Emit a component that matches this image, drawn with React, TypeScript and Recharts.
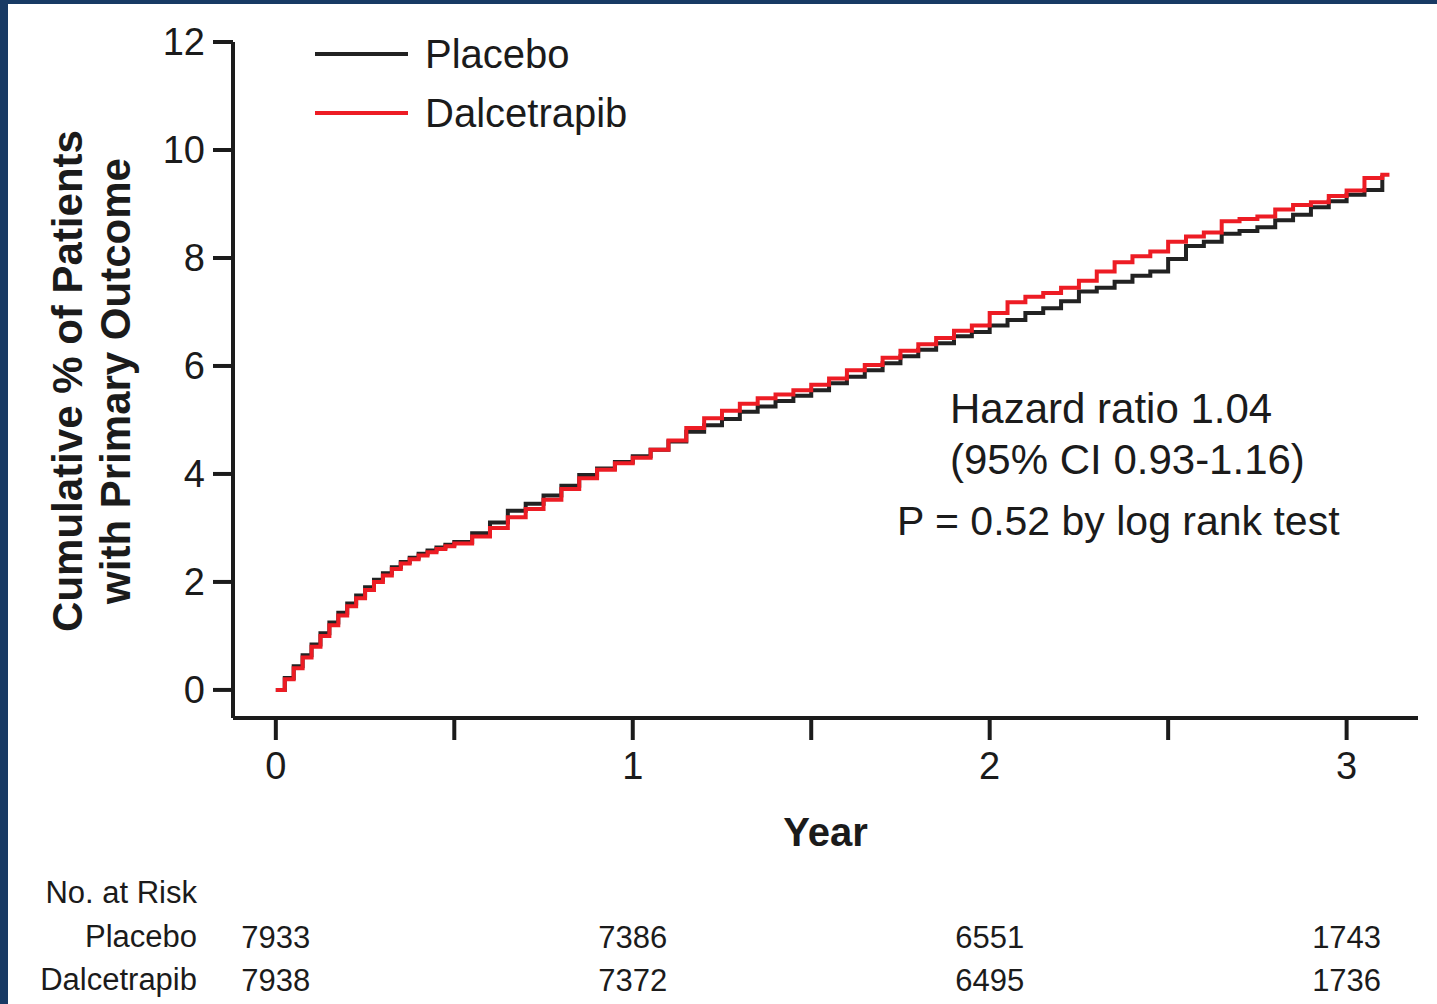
import React from "react";
import { LineChart, Line, XAxis, YAxis, Legend, Label } from "recharts";

const FONT = "'Liberation Sans', Arial, Helvetica, sans-serif";
const INK = "#1b1b1b";

const seriesOrder = ["Placebo", "Dalcetrapib"];

// follow-up time in years (event curves are step functions)
const years = [
  0, 0.025, 0.05, 0.075, 0.1, 0.125, 0.15, 0.175, 0.2, 0.225, 0.25, 0.275, 0.3, 0.325, 0.35,
  0.375, 0.4, 0.425, 0.45, 0.475, 0.5, 0.55, 0.6, 0.65, 0.7, 0.75,
  0.8, 0.85, 0.9, 0.95, 1, 1.05, 1.1, 1.15, 1.2, 1.25, 1.3, 1.35, 1.4, 1.45, 1.5, 1.55,
  1.6, 1.65, 1.7, 1.75, 1.8, 1.85, 1.9, 1.95, 2, 2.05, 2.1, 2.15, 2.2, 2.25, 2.3, 2.35,
  2.4, 2.45, 2.5, 2.55, 2.6, 2.65, 2.7, 2.75, 2.8, 2.85, 2.9, 2.95, 3, 3.05, 3.1, 3.12,
];

// cumulative % with primary outcome
const placebo = [
  0, 0.22, 0.44, 0.64, 0.84, 1.05, 1.25, 1.43, 1.6, 1.75, 1.9, 2.04, 2.16, 2.27, 2.37,
  2.45, 2.52, 2.58, 2.64, 2.69, 2.74, 2.9, 3.1, 3.32, 3.45, 3.6,
  3.78, 3.98, 4.1, 4.22, 4.33, 4.45, 4.6, 4.78, 4.9, 5.02, 5.15, 5.25, 5.35, 5.45, 5.55, 5.68,
  5.8, 5.92, 6.05, 6.18, 6.3, 6.42, 6.55, 6.63, 6.75, 6.85, 6.98, 7.07, 7.2, 7.38, 7.45, 7.56,
  7.67, 7.75, 7.98, 8.22, 8.3, 8.45, 8.5, 8.57, 8.7, 8.8, 8.94, 9.05, 9.17, 9.26, 9.54, null,
];

const dalcetrapib = [
  0, 0.2, 0.4, 0.6, 0.8, 1.0, 1.2, 1.38, 1.55, 1.7, 1.85, 2.0, 2.12, 2.24, 2.34,
  2.42, 2.49, 2.55, 2.61, 2.66, 2.71, 2.84, 3.0, 3.2, 3.35, 3.52,
  3.72, 3.92, 4.08, 4.2, 4.3, 4.45, 4.62, 4.85, 5.03, 5.17, 5.3, 5.4, 5.47, 5.55, 5.65, 5.77,
  5.92, 6.02, 6.15, 6.28, 6.4, 6.52, 6.65, 6.75, 6.98, 7.18, 7.28, 7.35, 7.45, 7.58, 7.75, 7.92,
  8.03, 8.12, 8.3, 8.4, 8.47, 8.68, 8.72, 8.77, 8.9, 8.98, 9.03, 9.15, 9.25, 9.48, 9.54, 9.54,
];

const yTicks = [0, 2, 4, 6, 8, 10, 12];
const xTicks = [0, 0.5, 1, 1.5, 2, 2.5, 3];

const riskYears = [0, 1, 2, 3];
const placeboAtRisk = [7933, 7386, 6551, 1743];
const dalcetrapibAtRisk = [7938, 7372, 6495, 1736];

const data = years.map((year, i) => ({
  year,
  placebo: placebo[i],
  dalcetrapib: dalcetrapib[i],
}));

const RiskTick = (props: any) => {
  const { x, y, payload } = props;
  const i = riskYears.indexOf(payload.value);
  const style = { fontFamily: FONT, fontSize: 31, fill: INK };
  return (
    <g>
      <text x={x} y={y + 90} textAnchor="middle" style={style}>
        {placeboAtRisk[i]}
      </text>
      <text x={x} y={y + 133} textAnchor="middle" style={style}>
        {dalcetrapibAtRisk[i]}
      </text>
    </g>
  );
};

const YTitle = (props: any) => {
  const vb = props.viewBox || { x: 0, y: 42, width: 233, height: 676 };
  const cy = vb.y + vb.height / 2 + 1;
  const style = { fontFamily: FONT, fontSize: 42, fontWeight: 700, fill: INK };
  return (
    <g>
      <text x={82} y={cy} textAnchor="middle" transform={`rotate(-90, 82, ${cy})`} style={style}>
        Cumulative % of Patients
      </text>
      <text x={130} y={cy} textAnchor="middle" transform={`rotate(-90, 130, ${cy})`} style={style}>
        with Primary Outcome
      </text>
    </g>
  );
};

const LegendBox = (props: any) => {
  const payload = [...(props.payload || [])].sort(
    (a: any, b: any) => seriesOrder.indexOf(a.value) - seriesOrder.indexOf(b.value)
  );
  return (
    <div>
      {payload.map((entry: any) => (
        <div key={entry.value} style={{ display: "flex", alignItems: "center", height: 59 }}>
          <div style={{ width: 93, height: 4, background: entry.color, marginRight: 17 }} />
          <span style={{ fontFamily: FONT, fontSize: 40, color: INK, lineHeight: 1 }}>
            {entry.value}
          </span>
        </div>
      ))}
    </div>
  );
};

const textBox = (left: number, top: number, size: number) => ({
  position: "absolute" as const,
  left,
  top,
  fontFamily: FONT,
  fontSize: size,
  lineHeight: 1,
  color: INK,
  whiteSpace: "nowrap" as const,
});

const rightBox = (right: number, top: number, size: number) => ({
  position: "absolute" as const,
  right: 1437 - right,
  top,
  fontFamily: FONT,
  fontSize: size,
  lineHeight: 1,
  color: INK,
  whiteSpace: "nowrap" as const,
});

export default function App() {
  return (
    <div style={{ position: "absolute", left: 0, top: 0, width: 1437, height: 1004, background: "#183a64" }}>
      <div style={{ position: "absolute", left: 8, top: 4, right: 0, bottom: 0, background: "#fff" }} />
      <div style={{ position: "absolute", left: 0, top: 0 }}>
        <LineChart
          width={1437}
          height={1004}
          data={data}
          margin={{ top: 42, right: 19, bottom: 0, left: 0 }}
        >
          <XAxis
            dataKey="year"
            type="number"
            domain={[-0.12, 3.2]}
            ticks={xTicks}
            tickFormatter={(v: number) => (Number.isInteger(v) ? String(v) : "")}
            height={140}
            axisLine={{ stroke: INK, strokeWidth: 4 }}
            tickLine={{ stroke: INK, strokeWidth: 4 }}
            tickSize={22}
            tickMargin={12}
            tick={{ fontFamily: FONT, fontSize: 38, fill: INK }}
            allowDataOverflow
          >
            <Label
              value="Year"
              position="insideBottom"
              offset={12}
              style={{ fontFamily: FONT, fontSize: 40, fontWeight: 700, fill: INK }}
            />
          </XAxis>
          <XAxis
            xAxisId="risk"
            dataKey="year"
            type="number"
            domain={[-0.12, 3.2]}
            ticks={riskYears}
            height={146}
            axisLine={false}
            tickLine={false}
            tickSize={0}
            tickMargin={0}
            tick={<RiskTick />}
            allowDataOverflow
          />
          <YAxis
            type="number"
            domain={[-0.52, 12]}
            ticks={yTicks}
            width={233}
            axisLine={{ stroke: INK, strokeWidth: 4 }}
            tickLine={{ stroke: INK, strokeWidth: 4 }}
            tickSize={20}
            tickMargin={8}
            tick={{ fontFamily: FONT, fontSize: 38, fill: INK }}
            allowDataOverflow
          >
            <Label content={<YTitle />} />
          </YAxis>
          <Legend
            layout="vertical"
            align="center"
            verticalAlign="middle"
            content={<LegendBox />}
            wrapperStyle={{ left: 315, top: 24, width: 340, height: 118 }}
          />
          <Line
            type="stepAfter"
            dataKey="placebo"
            name="Placebo"
            stroke="#222222"
            strokeWidth={4}
            dot={false}
            activeDot={false}
            isAnimationActive={false}
          />
          <Line
            type="stepAfter"
            dataKey="dalcetrapib"
            name="Dalcetrapib"
            stroke="#ed1c24"
            strokeWidth={4}
            dot={false}
            activeDot={false}
            isAnimationActive={false}
          />
        </LineChart>
      </div>

      <div style={textBox(950, 388, 42)}>Hazard ratio 1.04</div>
      <div style={textBox(950, 439, 42)}>(95% CI 0.93-1.16)</div>
      <div style={textBox(897, 501, 41)}>P = 0.52 by log rank test</div>

      <div style={rightBox(197, 877, 31)}>No. at Risk</div>
      <div style={rightBox(197, 921, 31)}>Placebo</div>
      <div style={rightBox(197, 964, 31)}>Dalcetrapib</div>
    </div>
  );
}
